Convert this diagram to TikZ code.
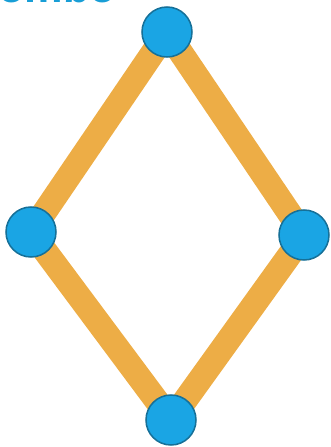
\documentclass[tikz,border=0pt]{standalone}
\usepackage{fontspec}
\setmainfont{Liberation Sans}
\usepackage{tikz}
\usetikzlibrary{positioning,backgrounds}
\usepackage{xcolor}
\definecolor{palo}{RGB}{237,173,70}
\definecolor{bola}{RGB}{26,165,228}
\definecolor{borde}{RGB}{22,112,152}
\definecolor{titulo}{RGB}{24,158,214}

\begin{document}
\begin{tikzpicture}[
  x=0.03cm, y=-0.03cm,
  vtx/.style={circle, fill=bola, draw=borde, line width=1.3pt, inner sep=0pt, minimum size=1.5cm},
  edge/.style={palo, line width=21pt},
  titlestyle/.style={font=\fontsize{37}{40}\selectfont\bfseries, text=titulo, inner sep=0pt}
]
\useasboundingbox (0,0) rectangle (330,447);

% --- Titulo (cortado arriba) ---
\node[titlestyle, anchor=base west] (tit) at (-2,3) {ombo};

% --- Vertices del rombo ---
\node[vtx] (top)   at (167,32) {};
\node[vtx] (left)  at (31,232) {};
\node[vtx] (right) at (304,235) {};
\node[vtx] (bot)   at (171,420) {};

% Palitos
\begin{scope}[on background layer]
  \draw[edge] (top.center)   -- (left.center);
  \draw[edge] (left.center)  -- (bot.center);
  \draw[edge] (bot.center)   -- (right.center);
  \draw[edge] (right.center) -- (top.center);
\end{scope}
\end{tikzpicture}
\end{document}
